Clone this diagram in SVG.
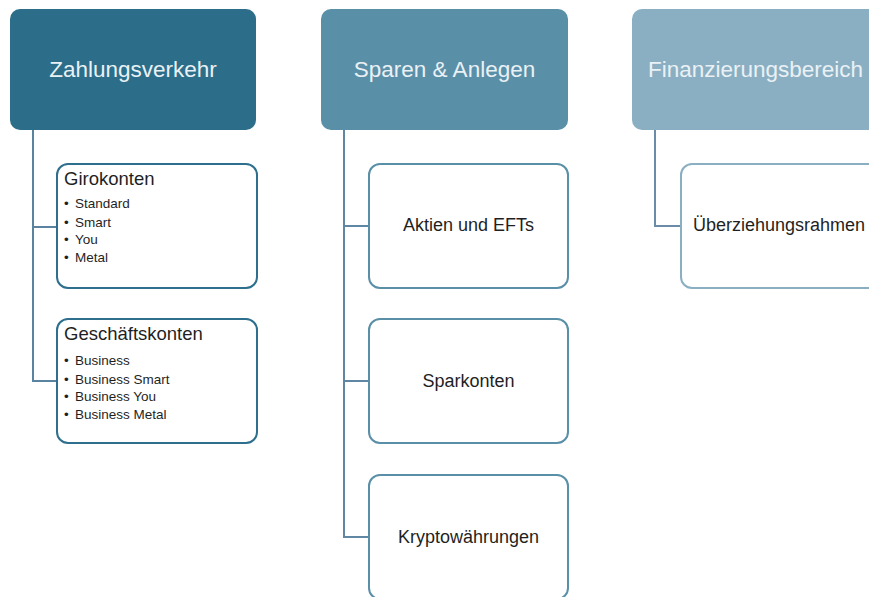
<svg xmlns="http://www.w3.org/2000/svg" width="869" height="597" viewBox="0 0 869 597">
<style>
.hdr-text{font-family:"Liberation Sans",Arial,sans-serif;font-size:22.5px;fill:#eaf1f5;text-anchor:middle}
.child{fill:#ffffff;stroke-width:2}
.c1{stroke:#2e6f8d}
.c2{stroke:#5a8fa8}
.c3{stroke:#8aafc2}
.lbl{font-family:"Liberation Sans",Arial,sans-serif;font-size:18px;fill:#1f1f1f;text-anchor:middle}
.ttl{font-family:"Liberation Sans",Arial,sans-serif;font-size:18.5px;fill:#1f1f1f}
.bul{font-family:"Liberation Sans",Arial,sans-serif;font-size:13.5px;fill:#1f1f1f}
.conn{fill:none;stroke-width:2}
</style>
<rect width="869" height="597" fill="#ffffff"/>
<g id="connectors">
<path class="conn" stroke="#5a83a0" d="M33,130 V381 H57 M33,227 H57"/>
<path class="conn" stroke="#5f87a4" d="M344,130 V537 H369 M344,226 H369 M344,381 H369"/>
<path class="conn" stroke="#6a8ca8" d="M655,130 V226 H681"/>
</g>
<g id="zahlungsverkehr">
<rect x="10" y="9" width="246" height="121" rx="10" fill="#2c6e8a"/>
<text class="hdr-text" x="133" y="77">Zahlungsverkehr</text>
</g>
<g id="sparen">
<rect x="321" y="9" width="247" height="121" rx="10" fill="#5a8fa8"/>
<text class="hdr-text" x="444.5" y="77">Sparen &amp; Anlegen</text>
</g>
<g id="finanzierung">
<rect x="632" y="9" width="247" height="121" rx="10" fill="#8aafc2"/>
<text class="hdr-text" x="755.5" y="77">Finanzierungsbereich</text>
</g>
<g id="girokonten">
<rect class="child c1" x="57" y="164" width="200" height="124" rx="11"/>
<text class="ttl" x="64" y="185">Girokonten</text>
<text class="bul" x="64" y="208">•</text><text class="bul" x="75" y="208">Standard</text>
<text class="bul" x="64" y="227">•</text><text class="bul" x="75" y="227">Smart</text>
<text class="bul" x="64" y="244">•</text><text class="bul" x="75" y="244">You</text>
<text class="bul" x="64" y="262">•</text><text class="bul" x="75" y="262">Metal</text>
</g>
<g id="geschaeftskonten">
<rect class="child c1" x="57" y="319" width="200" height="124" rx="11"/>
<text class="ttl" x="64" y="340">Geschäftskonten</text>
<text class="bul" x="64" y="365">•</text><text class="bul" x="75" y="365">Business</text>
<text class="bul" x="64" y="384">•</text><text class="bul" x="75" y="384">Business Smart</text>
<text class="bul" x="64" y="401">•</text><text class="bul" x="75" y="401">Business You</text>
<text class="bul" x="64" y="419">•</text><text class="bul" x="75" y="419">Business Metal</text>
</g>
<g id="aktien">
<rect class="child c2" x="369" y="164" width="199" height="124" rx="11"/>
<text class="lbl" x="468.5" y="231">Aktien und EFTs</text>
</g>
<g id="sparkonten">
<rect class="child c2" x="369" y="319" width="199" height="124" rx="11"/>
<text class="lbl" x="468.5" y="387">Sparkonten</text>
</g>
<g id="krypto">
<rect class="child c2" x="369" y="475" width="199" height="124" rx="11"/>
<text class="lbl" x="468.5" y="543">Kryptowährungen</text>
</g>
<g id="ueberziehung">
<rect class="child c3" x="681" y="164" width="247" height="124" rx="11"/>
<text class="lbl" x="693" y="231" style="text-anchor:start">Überziehungsrahmen</text>
</g>
</svg>
